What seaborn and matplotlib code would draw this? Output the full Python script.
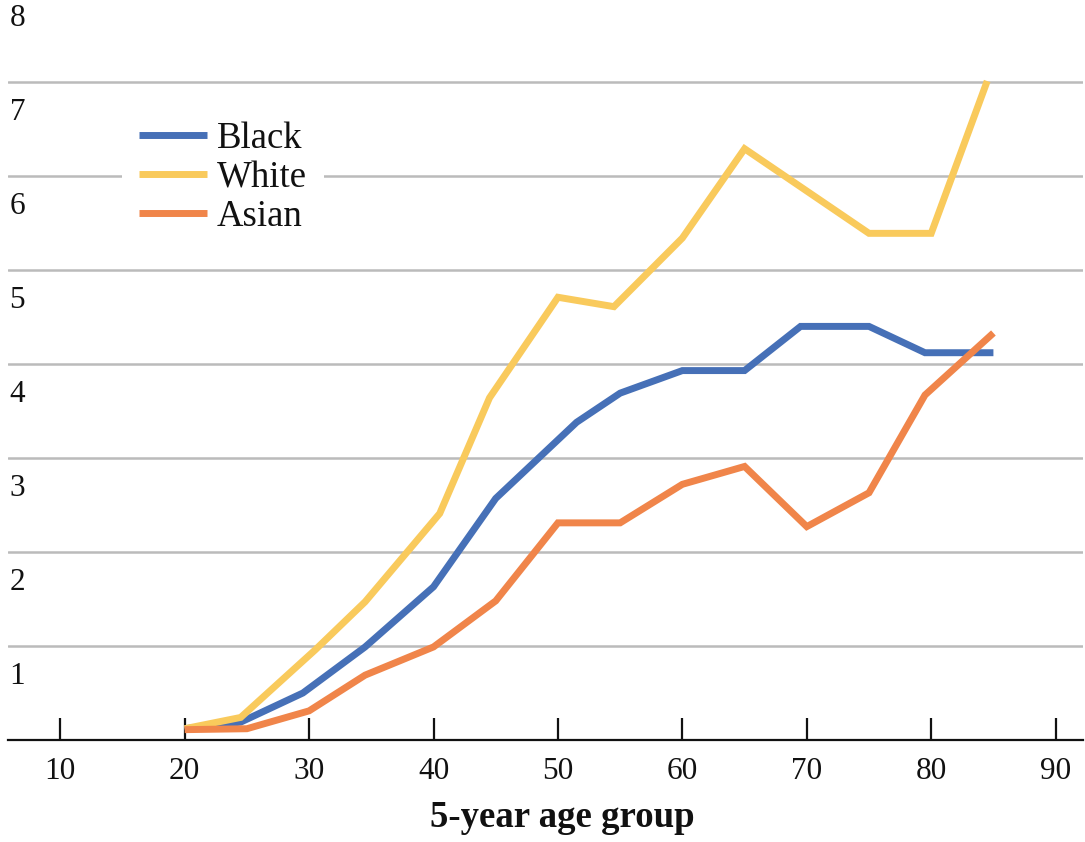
import matplotlib
matplotlib.use("Agg")
import matplotlib.pyplot as plt
from matplotlib import transforms
import seaborn as sns
import pandas as pd

# Rates by 5-year age group for each group
black_age = [20, 24.5, 29.5, 34.5, 40, 45, 51.5, 55, 60, 65, 69.5, 75, 79.5, 85]
black_val = [0.12, 0.19, 0.50, 0.99, 1.63, 2.57, 3.38, 3.69, 3.93, 3.93, 4.40, 4.40, 4.12, 4.12]

white_age = [20, 24.5, 30.5, 34.5, 40.5, 44.5, 50, 54.5, 60, 65, 75, 80, 84.5]
white_val = [0.12, 0.24, 0.96, 1.47, 2.41, 3.64, 4.71, 4.61, 5.34, 6.29, 5.39, 5.39, 7.01]

asian_age = [20, 25, 30, 34.5, 40, 45, 50, 55, 60, 65, 70, 75, 79.5, 85]
asian_val = [0.11, 0.12, 0.31, 0.69, 0.99, 1.48, 2.31, 2.31, 2.72, 2.91, 2.27, 2.63, 3.67, 4.33]

groups = ["Black", "White", "Asian"]
colors = ["#4670B7", "#F9CA5C", "#F0854A"]
x_ticks = [10, 20, 30, 40, 50, 60, 70, 80, 90]
y_ticks = [1, 2, 3, 4, 5, 6, 7, 8]

df = pd.concat([
    pd.DataFrame({"age": black_age, "value": black_val, "group": "Black"}),
    pd.DataFrame({"age": white_age, "value": white_val, "group": "White"}),
    pd.DataFrame({"age": asian_age, "value": asian_val, "group": "Asian"}),
], ignore_index=True)

sns.set_style("white")
plt.rcParams["font.family"] = ["Liberation Serif", "DejaVu Serif"]

W, H, DPI = 1085, 842, 100
fig = plt.figure(figsize=(W / DPI, H / DPI), dpi=DPI)
ax = fig.add_axes([8 / W, (H - 740) / H, 1075 / W, 740 / H])

sns.lineplot(data=df, x="age", y="value", hue="group", hue_order=groups,
             palette=colors, estimator=None, sort=False, linewidth=5.0,
             ax=ax, legend=False, zorder=3)
for ln in ax.lines:
    ln.set_solid_joinstyle("miter")
    ln.set_solid_capstyle("butt")

ax.set_xlim(5.8, 92.2)
ax.set_ylim(0, 740 / 94)

# horizontal gridlines
for v in y_ticks[:-1]:
    ax.axhline(v, color="#BBBBBB", linewidth=1.8, zorder=1)

# y labels sit just below their gridline
ytrans = transforms.offset_copy(
    transforms.blended_transform_factory(ax.transAxes, ax.transData),
    fig=fig, x=0, y=-38, units="dots")
for v in y_ticks:
    ax.text(0.0015, v, str(v), transform=ytrans, ha="left", va="baseline",
            fontsize=22.5, color="#111111", clip_on=False)

ax.set_yticks([])
ax.set_xticks(x_ticks)
ax.set_xticklabels([str(t) for t in x_ticks], fontsize=22.5, color="#111111")
ax.tick_params(axis="x", bottom=True, direction="in", length=16, width=1.6,
               color="#111111", pad=12)
for side in ["top", "right", "left"]:
    ax.spines[side].set_visible(False)
ax.spines["bottom"].set_color("#111111")
ax.spines["bottom"].set_linewidth(1.6)
ax.set_xlabel("")
ax.set_ylabel("")

fig.text(562 / W, (H - 827) / H, "5-year age group", ha="center", va="baseline",
         fontsize=26.5, fontweight="bold", color="#111111")

handles = [plt.Line2D([], [], color=c, linewidth=5.0, solid_capstyle="butt")
           for c in colors]
leg = ax.legend(handles, groups, loc="upper left",
                bbox_to_anchor=(122 / W, (H - 104) / H),
                bbox_transform=fig.transFigure, fontsize=26.5, frameon=True,
                handlelength=1.85, handletextpad=0.26, labelspacing=0.13,
                borderpad=0.47, borderaxespad=0)
leg.get_frame().set_facecolor("white")
leg.get_frame().set_edgecolor("none")
leg.get_frame().set_alpha(1.0)
leg.set_zorder(5)
for t in leg.get_texts():
    t.set_color("#111111")

fig.savefig("out.png", dpi=DPI)
